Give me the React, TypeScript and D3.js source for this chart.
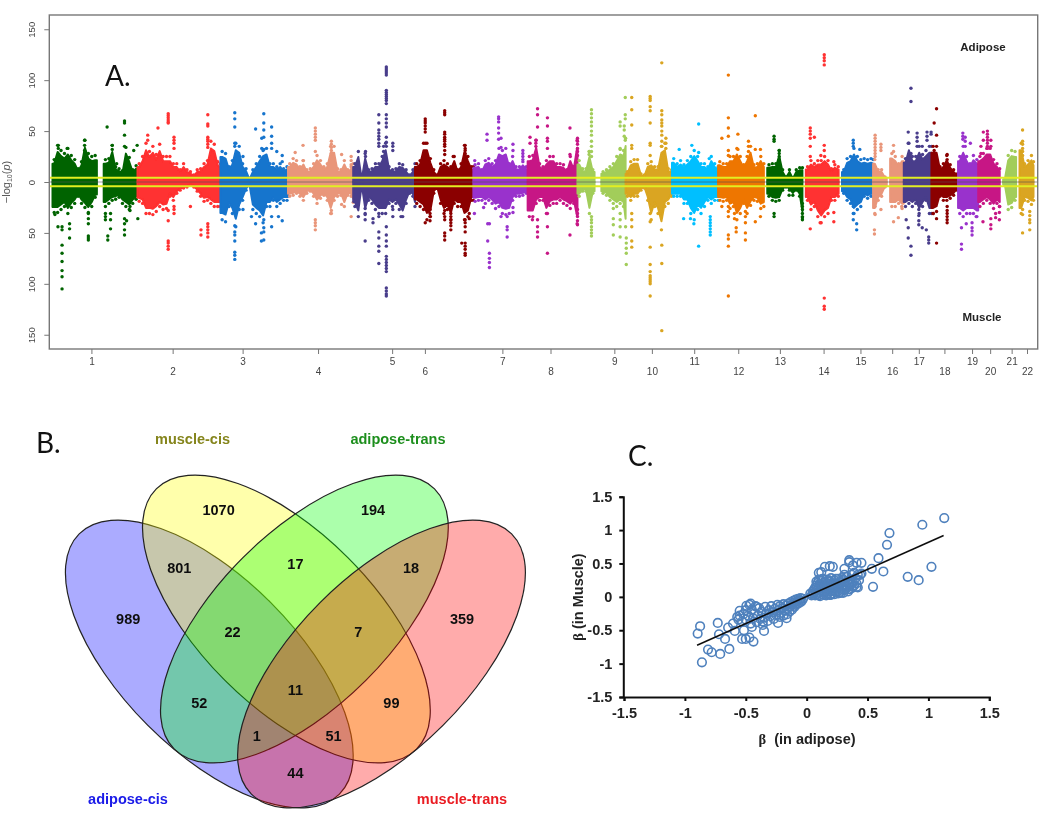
import React, { useRef, useEffect } from 'react';
import * as d3 from 'd3';

const WIDTH = 1050;
const HEIGHT = 821;
const SANS = '"Liberation Sans", Arial, sans-serif';

// ---- A. manhattan ----
const chrNames = ['1','2','3','4','5','6','7','8','9','10','11','12','13','14','15','16','17','18','19','20','21','22'];
const chrLengths = [249,243,198,191,181,171,159,146,141,136,135,134,113,106,101,90,81,78,59,63,48,51];
const chrTickMb = [114,103,65,88,114,29,85,67,108,77,65,59,47,62,64,56,44,38,41,35,35,32];
const chrColors = ['#006400','#ff3030','#1874cd','#e9967a','#483d8b','#8b0000','#9932cc','#c71585','#a2cd5a','#daa520','#00bfff','#ee7600'];

// densest part of each chromosome, read per 10 Mb bin (0 = no markers)
const adiposeBand = [
  [22,36,31,28,33,26,22,13,20,41,28,25,26,0,0,22,23,36,15,13,11,34,24,12,16],
  [18,25,38,30,35,27,37,25,25,25,18,18,12,18,12,10,7,12,13,18,21,40,37,20,18],
  [30,28,15,21,38,35,18,13,3,12,18,25,31,33,18,18,15,18,13,15],
  [18,23,21,15,21,12,13,18,26,21,15,18,35,35,13,12,21,12,15,18],
  [18,30,3,28,12,13,18,18,25,38,15,12,13,18,17,12,7,12,18],
  [18,21,38,38,23,12,7,18,21,18,15,25,12,18,36,25,15,15],
  [17,18,12,21,23,18,21,33,31,33,18,25,15,15,20,15],
  [25,26,41,18,15,21,25,25,18,18,17,12,25,15,41],
  [21,13,13,30,12,0,0,10,12,15,18,25,33,31,43],
  [10,20,22,22,8,7,18,20,15,15,35,38,13,12],
  [23,18,21,17,21,25,31,25,18,18,15,25,18,15],
  [20,18,18,25,25,33,25,17,25,35,17,18,25,18],
  [0,17,18,18,31,12,5,12,4,12,14,14],
  [0,15,21,18,21,21,25,21,13,17,15],
  [0,12,23,25,33,25,22,23,22,23,22],
  [22,12,12,5,0,28,25,18,25],
  [23,38,25,25,35,27,31,35,35],
  [35,35,15,18,26,17,12,8],
  [25,35,25,18,26,22],
  [25,28,33,33,22,18,13],
  [0,3,26,31,30],
  [0,38,18,21,26,20],
];
const muscleBand = [
  [30,30,27,24,31,25,21,14,21,25,30,24,15,0,0,24,21,18,17,15,21,24,27,21,17],
  [19,21,31,31,32,29,24,27,26,14,18,11,8,6,5,3,5,9,14,19,18,21,24,24,24],
  [37,39,24,31,44,27,18,8,3,27,31,34,40,24,24,18,24,21,18,18],
  [14,13,11,14,18,11,9,14,21,16,13,18,31,18,14,13,24,13,14,20],
  [24,34,3,31,18,21,27,31,31,31,21,24,21,27,34,21,11,14,24],
  [21,24,27,37,34,11,6,21,31,27,37,21,24,24,37,34,18,18],
  [19,18,18,21,18,21,26,24,31,32,31,18,14,14,13,11],
  [34,34,21,18,18,31,23,21,21,18,21,23,26,21,41],
  [14,9,9,31,11,0,0,11,13,18,21,24,21,24,44],
  [14,18,14,14,8,6,18,37,24,31,47,24,21,14],
  [14,14,14,21,21,31,37,27,31,24,18,21,18,18],
  [18,19,18,26,24,37,31,21,31,23,18,19,26,24],
  [0,14,18,19,18,8,5,8,13,8,14,35],
  [0,18,27,24,34,40,34,31,18,18,14],
  [0,11,18,21,31,27,24,14,16,14,14],
  [31,18,14,5,0,24,24,21,26],
  [24,21,24,21,31,24,18,31,31],
  [31,29,14,18,18,16,13,8],
  [31,34,31,31,31,34],
  [24,21,18,21,26,21,24],
  [0,3,27,25,18],
  [0,31,18,19,22,18],
];

type Spike = [number, number[]];
// stand-alone dots above the band: [Mb, -log10(p) values]
const adiposeSpikes: Spike[][] = [
  [[17,[36,33]],[43,[33]],[94,[41,36,31]],[160,[54]],[175,[36,32]],[188,[18]],[211,[60,58,46,35]],[238,[31]],[248,[36]]],
  [[30,[46,41]],[60,[53]],[90,[67,65,63,61,59,58]],[107,[44,41,38,33]],[206,[66,57,55,44,42,40,37,34]]],
  [[42,[68,62,54,38,35]],[66,[25]],[103,[52]],[121,[43,33]],[127,[67,58,51,44,32]],[150,[54,45,38,33]],[165,[30]],[181,[20,26]]],
  [[21,[29]],[44,[36,21]],[80,[53,50,47,44,41,30]],[127,[40,37,34,31,28]],[157,[27]],[185,[25,21,17,12]]],
  [[36,[25,30]],[75,[66,58,51,48,45,42,38,35]],[89,[35,30]],[97,[113,111,109,107,105,90,88,86,84,82,80,77,66,62,58,54,44,39,35]],[116,[38,35,31]]],
  [[30,[62,60,58,55,52,49,38]],[87,[70,68,66,49,47,44,42,40,37,35,31,27]],[147,[36,33,31,28]],[112,[25]]],
  [[4,[21]],[40,[47,41]],[74,[64,62,59,53,48,42]],[81,[43,34]],[116,[37,31]],[145,[31,28,25,22]]],
  [[7,[44,38]],[24,[41,38,35]],[29,[72,66,54]],[58,[63,55,43,40,33]],[124,[53,27]],[146,[43,40,37,33,30,26]]],
  [[34,[30,27]],[41,[71,67,63,59,55,50,46,40,35,30,25]],[125,[59,55,32]],[137,[55,51,45]],[140,[83,66,62,41]]],
  [[18,[83,71,56,36,33]],[72,[84,82,80,74,70,58,38,36,26]],[106,[117,70,66,61,58,55,50,46,40,35]],[118,[43,38,33]]],
  [[21,[32]],[58,[36]],[78,[57,29]],[109,[23]]],
  [[11,[43]],[30,[105,63,53,45,31,26]],[58,[47,32]],[89,[40,35,30]],[109,[65,32]],[124,[32]]],
  [[30,[45,42,40]],[45,[31,28,25,22]]],
  [[23,[53,50,47,43,35,25]],[35,[44]],[54,[26]],[64,[125,122,119,115,36,31]],[92,[20]]],
  [[43,[41,38,35]],[62,[32]]],
  [[6,[46,43,40,37,34,31,28,25]],[23,[37,34,31]],[60,[36,30]]],
  [[13,[49,38]],[21,[92,79,28]],[39,[48,44,40,35]],[54,[35]],[68,[49,45,41]],[80,[49,47]]],
  [[8,[58,31]],[15,[72,46]],[46,[27,22]]],
  [[14,[48,45,42]],[21,[44,40,35]],[36,[38]]],
  [[8,[35,28]],[15,[49,41]],[27,[50,47,44,41,38,35,33]],[37,[41,35]]],
  [],
  [[19,[51,40,37,33,30,26]]],
];
const muscleSpikes: Spike[][] = [
  [[7,[32]],[16,[44]],[28,[44,47,62,70,78,87,93,105]],[50,[41,46,55]],[105,[31,36,41,53,55,57]],[155,[31,34,37]],[162,[53,57]],[170,[31,37,46]],[211,[36,41,47,52]],[217,[38]],[227,[24,28]],[250,[36]]],
  [[90,[38,58,60,63,66,28]],[107,[24,27,31]],[186,[47,52]],[155,[24]],[206,[41,44,47,50,54]]],
  [[42,[43,49,52,58,69,72,76]],[66,[27]],[91,[34]],[103,[41]],[120,[50,58]],[127,[37,45,49,57]],[150,[34,44]],[170,[34]],[181,[38]]],
  [[80,[37,40,43,47]],[127,[28,31]],[157,[22]],[185,[34]]],
  [[35,[58,37,32,26]],[58,[36,40]],[75,[34,49,55,63,68,80]],[97,[44,52,58,63,73,76,79,82,85,88,104,107,110,112]],[116,[27,34]],[140,[34]]],
  [[30,[40]],[44,[27,31,34,38]],[87,[24,28,34,37,50,53,57]],[105,[31,34,37,40,43,47]],[137,[60]],[147,[37,40,44,49,60,63,66,70,72]],[159,[31,36]]],
  [[3,[31]],[30,[25]],[42,[41,58]],[47,[41,70,75,79,84]],[81,[34]],[99,[34,44,47,54]],[116,[25,30]]],
  [[14,[37]],[29,[37,44,49,54]],[58,[31,44,70]],[124,[52]],[146,[27,31,34,38,42]]],
  [[41,[34,37,40,44,47,50,53]],[105,[26,36,42,52]],[125,[31,37,44,54]],[143,[55,60,65,70,81]]],
  [[18,[31,37,44,58,64]],[72,[31,39,64,81,88,92,94,96,98,100,112]],[106,[62,80,146]]],
  [[34,[36]],[54,[36]],[64,[41]],[78,[63]],[112,[34,37,40,43,46,49,52]]],
  [[11,[24]],[30,[24,29,34,52,56,63,112]],[48,[31,36]],[53,[45,49]],[80,[29,34,40,50,57]],[109,[39]],[124,[34]]],
  [[30,[31,34]],[74,[13]],[113,[21,24,27,31,34,37]]],
  [[23,[46]],[52,[40]],[64,[114,122,125]],[92,[30,39]]],
  [[43,[24,31,37]],[53,[41,47]]],
  [[4,[47,51]],[6,[24,32]],[23,[27]],[60,[39]],[74,[35]],[84,[24]]],
  [[7,[37]],[13,[45,55]],[21,[63,72]],[44,[27,33,38,42]],[54,[45]],[66,[47]],[73,[54,57,60]]],
  [[5,[31]],[15,[36,60]],[46,[24,28,31,34,37,40]]],
  [[10,[45,61,66]],[24,[41]],[41,[40,45,48,52]],[53,[34]]],
  [[14,[39]],[37,[36,42,46]],[51,[31,35]],[62,[24,30,37]]],
  [],
  [[19,[27,32,50]],[40,[29,33,37,40,47]]],
];

const genomeTicksY = [-150,-100,-50,0,50,100,150];
const SIGNIFICANCE = 4.2;

// ---- B. venn ----
const vennNames = ['adipose-cis','muscle-cis','adipose-trans','muscle-trans'];
const vennFills = ['#0000ff','#ffff00','#00ff00','#ff0000'];
const vennCenters = [[209.3,664],[286.4,619],[304.4,619],[381.5,664]];
const vennAngles = [45,45,-45,-45];
const vennLabelColors = ['#1a1ae8','#85851c','#1f8f1f','#ea1c24'];
const vennLabelPos = [[128,799],[192.5,439],[398,439],[462,799]];
const vennCounts = [1070,194,801,17,18,989,22,7,359,11,52,99,1,51,44];
const vennCountPos = [[218.6,510],[373,510],[179.3,568],[295.4,564],[411,568],[128.2,619],[232.5,632],[358.2,632],[462,619],[295.4,690],[199.3,703],[391.4,703],[256.8,736],[333.6,736],[295.4,773]];

// ---- C. effect sizes ----
const betaTicks = [-1.5,-1,-0.5,0,0.5,1,1.5];
const fitLine = [[-0.9,-0.725],[1.125,0.92]];
const betaOutliers = [
  [1.13,1.18],[0.95,1.08],[0.68,0.955],[0.66,0.78],[0.59,0.58],[0.63,0.38],[0.535,0.42],[0.545,0.15],[0.83,0.3],[0.92,0.25],[1.025,0.45],
  [0.1,0.36],[0.12,0.37],[0.15,0.45],[0.19,0.46],[0.215,0.45],[0.31,0.42],[0.35,0.55],[0.35,0.52],[0.38,0.47],[0.41,0.51],[0.45,0.51],[0.45,0.35],[0.41,0.15],[0.38,0.15],[0.35,0.2],[0.27,0.07],
  [-0.895,-0.55],[-0.875,-0.44],[-0.73,-0.39],[-0.72,-0.56],[-0.67,-0.63],[-0.635,-0.78],[-0.81,-0.79],[-0.78,-0.83],[-0.71,-0.855],[-0.86,-0.98],[-0.645,-0.46],[-0.59,-0.51],[-0.605,-0.4],[-0.55,-0.21],[-0.57,-0.3],[-0.53,-0.63],[-0.5,-0.63],[-0.47,-0.61],[-0.437,-0.67],[-0.35,-0.51],[-0.45,-0.45],[-0.515,-0.5],[-0.495,-0.135],[-0.46,-0.1],[-0.235,-0.39],[-0.165,-0.32],[-0.36,-0.37],[-0.41,-0.15],
];
const betaPositive = [
  [0.03,0.05],[0.04,0.02],[0.05,0.08],[0.05,0.03],[0.06,0.11],[0.06,0.05],[0.07,0.14],[0.07,0.02],[0.08,0.09],[0.08,0.17],[0.08,0.04],[0.09,0.12],[0.09,0.21],[0.1,0.06],[0.1,0.15],[0.1,0.02],[0.11,0.1],[0.11,0.19],[0.12,0.04],[0.12,0.13],[0.12,0.24],[0.13,0.08],[0.13,0.17],[0.14,0.03],[0.14,0.12],[0.14,0.21],[0.15,0.07],[0.15,0.16],[0.16,0.1],[0.16,0.26],[0.17,0.05],[0.17,0.14],[0.17,0.2],[0.18,0.09],[0.18,0.17],[0.19,0.03],[0.19,0.12],[0.19,0.23],[0.2,0.08],[0.2,0.16],[0.2,0.28],[0.21,0.05],[0.21,0.13],[0.22,0.19],[0.22,0.1],[0.23,0.24],[0.23,0.15],[0.24,0.07],[0.24,0.2],[0.25,0.12],[0.25,0.17],[0.26,0.27],[0.26,0.09],[0.27,0.15],[0.28,0.21],[0.28,0.06],[0.29,0.12],[0.3,0.18],[0.3,0.25],[0.31,0.1],[0.32,0.22],[0.33,0.15],[0.33,0.3],[0.34,0.08],[0.35,0.18],[0.36,0.26],[0.37,0.13],[0.38,0.22],[0.39,0.17],[0.4,0.28],[0.41,0.2],[0.42,0.33],[0.43,0.25],
  [0.08,0.23],[0.1,0.26],[0.13,0.27],[0.15,0.23],[0.18,0.25],[0.21,0.2],[0.24,0.27],[0.27,0.22],[0.29,0.28],[0.31,0.33],[0.34,0.24],[0.37,0.33],[0.39,0.36],[0.42,0.14],[0.44,0.33],
  [0.11,0.01],[0.16,0.02],[0.2,0.03],[0.23,0.04],[0.26,0.05],[0.3,0.06],[0.32,0.12],[0.35,0.11],[0.37,0.2],
];
const betaNegative = [
  [-0.03,-0.03],[-0.04,-0.06],[-0.05,-0.02],[-0.05,-0.08],[-0.06,-0.05],[-0.07,-0.1],[-0.07,-0.03],[-0.08,-0.07],[-0.09,-0.12],[-0.09,-0.04],[-0.1,-0.09],[-0.1,-0.15],[-0.11,-0.06],[-0.12,-0.12],[-0.12,-0.19],[-0.13,-0.08],[-0.14,-0.15],[-0.14,-0.22],[-0.15,-0.1],[-0.16,-0.18],[-0.16,-0.26],[-0.17,-0.13],[-0.18,-0.21],[-0.19,-0.11],[-0.19,-0.28],[-0.2,-0.17],[-0.21,-0.24],[-0.22,-0.14],[-0.22,-0.3],[-0.23,-0.2],[-0.24,-0.12],[-0.25,-0.27],[-0.26,-0.18],[-0.27,-0.33],[-0.28,-0.23],[-0.29,-0.14],[-0.3,-0.29],[-0.31,-0.2],[-0.32,-0.36],[-0.33,-0.25],[-0.34,-0.15],[-0.35,-0.31],[-0.36,-0.42],[-0.37,-0.22],[-0.38,-0.33],[-0.39,-0.17],[-0.4,-0.28],[-0.41,-0.38],[-0.42,-0.14],[-0.43,-0.25],[-0.44,-0.32],[-0.45,-0.19],[-0.46,-0.4],[-0.47,-0.12],[-0.48,-0.28],[-0.5,-0.34],[-0.5,-0.2],[-0.52,-0.26],[-0.53,-0.37],[-0.55,-0.28],[-0.56,-0.34],
];

const App: React.FC = () => {
  const ref = useRef<SVGSVGElement>(null);

  useEffect(() => {
    const svg = d3.select(ref.current!);
    svg.selectAll('*').remove();
    svg.append('rect').attr('width', WIDTH).attr('height', HEIGHT).attr('fill', '#fff');

    const defs = svg.append('defs');
    defs.append('filter').attr('id', 'soft').append('feGaussianBlur').attr('stdDeviation', 0.45);

    // panel A
    const offsets = d3.cumsum([0, ...chrLengths]);
    const xGenome = d3.scaleLinear().domain([0, offsets[22]]).range([52.5, 1033.5]);
    const yP = d3.scaleLinear().domain([-164, 164]).range([349, 15]);
    const a = svg.append('g').attr('filter', 'url(#soft)');

    const bandArea = d3.area<{ x: number; v: number }>()
      .defined(d => d.v > 0)
      .x(d => xGenome(d.x))
      .y0(yP(0));

    chrNames.forEach((_, c) => {
      const color = chrColors[c % chrColors.length];
      const len = chrLengths[c];
      const g = a.append('g').attr('fill', color);
      const drawBand = (bins: number[], sign: number) => {
        const pts = bins.flatMap((v, i) => {
          const row = [{ x: offsets[c] + Math.min(i * 10 + 5, len), v }];
          if (v > 0 && !(bins[i - 1] > 0)) row.unshift({ x: offsets[c] + i * 10, v });
          if (v > 0 && !(bins[i + 1] > 0)) row.push({ x: offsets[c] + Math.min((i + 1) * 10, len), v });
          return row;
        });
        // solid core, the bin's top marker sits just above it
        g.append('path')
          .attr('d', bandArea.y1(d => yP(sign * d.v * 0.82))(pts))
          .attr('stroke', color)
          .attr('stroke-width', 2)
          .attr('stroke-linejoin', 'round');
        g.selectAll(null)
          .data(bins.map((v, i) => ({ v, i })).filter(d => d.v > 0))
          .enter()
          .append('circle')
          .attr('cx', d => xGenome(offsets[c] + Math.min(d.i * 10 + 5, len)))
          .attr('cy', d => yP(sign * d.v))
          .attr('r', 1.7);
      };
      drawBand(adiposeBand[c], 1);
      drawBand(muscleBand[c], -1);
      const drawSpikes = (spikes: Spike[], sign: number) => {
        spikes.forEach(([mb, values]) => {
          g.selectAll(null)
            .data(values)
            .enter()
            .append('circle')
            .attr('cx', xGenome(offsets[c] + mb))
            .attr('cy', v => yP(sign * v))
            .attr('r', 1.7);
        });
      };
      drawSpikes(adiposeSpikes[c], 1);
      drawSpikes(muscleSpikes[c], -1);
    });

    a.append('line').attr('x1', 49).attr('x2', 1038).attr('y1', yP(0)).attr('y2', yP(0))
      .attr('stroke', '#555').attr('stroke-width', 1).attr('opacity', 0.6);
    [SIGNIFICANCE, -SIGNIFICANCE].forEach(v => {
      a.append('line').attr('x1', 49).attr('x2', 1038).attr('y1', yP(v)).attr('y2', yP(v))
        .attr('stroke', '#e2ee22').attr('stroke-width', 2);
    });

    a.append('rect').attr('x', 49.3).attr('y', 15).attr('width', 988.4).attr('height', 334)
      .attr('fill', 'none').attr('stroke', '#777').attr('stroke-width', 1.4);

    const yAxis = a.append('g').attr('transform', 'translate(49.3,0)')
      .call(d3.axisLeft(yP).tickValues(genomeTicksY).tickSize(5).tickFormat(d => String(Math.abs(+d))));
    yAxis.select('.domain').remove();
    yAxis.selectAll('line').attr('stroke', '#777');
    yAxis.selectAll<SVGTextElement, number>('text')
      .attr('x', 0).attr('y', 0).attr('dy', '0.32em')
      .attr('transform', 'translate(-17,0) rotate(-90)')
      .attr('text-anchor', 'middle')
      .attr('fill', '#444').attr('font-family', SANS).attr('font-size', 9.5);

    const tickPositions = chrTickMb.map((mb, c) => offsets[c] + mb);
    const xAxis = a.append('g').attr('transform', 'translate(0,349)')
      .call(d3.axisBottom(xGenome).tickValues(tickPositions).tickSize(5)
        .tickFormat((_, i) => chrNames[i]));
    xAxis.select('.domain').remove();
    xAxis.selectAll('line').attr('stroke', '#777');
    xAxis.selectAll<SVGTextElement, number>('text')
      .attr('y', (_, i) => (i % 2 === 0 ? 9 : 19))
      .attr('fill', '#444').attr('font-family', SANS).attr('font-size', 10);

    const yTitle = a.append('text')
      .attr('transform', 'translate(10,182) rotate(-90)')
      .attr('text-anchor', 'middle').attr('fill', '#555')
      .attr('font-family', SANS).attr('font-size', 11);
    yTitle.append('tspan').text('\u2212log');
    yTitle.append('tspan').attr('font-size', 7).attr('dy', 2).text('10');
    yTitle.append('tspan').attr('dy', -2).text('(');
    yTitle.append('tspan').attr('font-style', 'italic').text('p');
    yTitle.append('tspan').text(')');

    const boldLabel = (x: number, y: number, t: string) =>
      a.append('text').attr('x', x).attr('y', y).attr('text-anchor', 'middle')
        .attr('font-family', SANS).attr('font-weight', 'bold').attr('font-size', 11.5)
        .attr('fill', '#222').text(t);
    boldLabel(983, 51, 'Adipose');
    boldLabel(982, 321, 'Muscle');

    // panel letters
    const letter = (x: number, y: number, t: string) =>
      svg.append('text').attr('x', x).attr('y', y).attr('font-family', 'Lato, sans-serif')
        .attr('font-size', 28).attr('fill', '#111').text(t);
    letter(105, 86, 'A.');
    letter(36, 453, 'B.');
    letter(628, 466, 'C.');

    // panel B
    const b = svg.append('g').attr('filter', 'url(#soft)');
    vennNames.forEach((name, i) => {
      b.append('ellipse')
        .attr('transform', `translate(${vennCenters[i][0]},${vennCenters[i][1]}) rotate(${vennAngles[i]})`)
        .attr('rx', 184).attr('ry', 86.9)
        .attr('fill', vennFills[i]).attr('fill-opacity', 0.33)
        .attr('stroke', '#222').attr('stroke-width', 1.2);
      b.append('text').attr('x', vennLabelPos[i][0]).attr('y', vennLabelPos[i][1])
        .attr('text-anchor', 'middle').attr('dy', '0.35em')
        .attr('font-family', SANS).attr('font-weight', 'bold').attr('font-size', 14.5)
        .attr('fill', vennLabelColors[i]).text(name);
    });
    b.selectAll(null).data(vennCounts).enter().append('text')
      .attr('x', (_, i) => vennCountPos[i][0]).attr('y', (_, i) => vennCountPos[i][1])
      .attr('text-anchor', 'middle').attr('dy', '0.35em')
      .attr('font-family', SANS).attr('font-weight', 'bold').attr('font-size', 14.5)
      .attr('fill', '#111').text(d => d);

    // panel C
    const xBeta = d3.scaleLinear().domain([-1.5, 1.5]).range([624, 989.3]);
    const yBeta = d3.scaleLinear().domain([-1.5, 1.5]).range([697, 496.7]);
    const c = svg.append('g').attr('filter', 'url(#soft)');
    const allBetas = [...betaOutliers, ...betaPositive, ...betaNegative];
    c.selectAll(null).data(allBetas).enter().append('circle')
      .attr('cx', d => xBeta(d[0])).attr('cy', d => yBeta(d[1])).attr('r', 4.3)
      .attr('fill', 'none').attr('stroke', '#4f81bd').attr('stroke-width', 1.6);
    c.append('path')
      .attr('d', d3.line<number[]>().x(d => xBeta(d[0])).y(d => yBeta(d[1]))(fitLine))
      .attr('stroke', '#111').attr('stroke-width', 1.6).attr('fill', 'none');

    const styleAxis = (g: d3.Selection<SVGGElement, unknown, null, undefined>) => {
      g.select('.domain').attr('stroke', '#111').attr('stroke-width', 2);
      g.selectAll('line').attr('stroke', '#111').attr('stroke-width', 2);
      g.selectAll('text').attr('font-family', SANS).attr('font-weight', 'bold')
        .attr('font-size', 14.5).attr('fill', '#222');
    };
    c.append('g').attr('transform', 'translate(0,697)')
      .call(d3.axisBottom(xBeta).tickValues(betaTicks).tickSize(4).tickPadding(7).tickFormat(d => String(d)))
      .call(styleAxis);
    c.append('g').attr('transform', 'translate(623.3,0)')
      .call(d3.axisLeft(yBeta).tickValues(betaTicks).tickSize(4).tickPadding(7).tickFormat(d => String(d)))
      .call(styleAxis);

    const betaTitle = (sel: d3.Selection<SVGTextElement, unknown, null, undefined>, rest: string) => {
      sel.attr('text-anchor', 'middle').attr('font-family', SANS)
        .attr('font-weight', 'bold').attr('font-size', 14.5).attr('fill', '#222');
      sel.append('tspan').attr('font-family', '"Liberation Serif", serif').text('\u03b2');
      sel.append('tspan').attr('xml:space', 'preserve').text(rest);
    };
    betaTitle(c.append('text').attr('x', 807).attr('y', 744), '  (in adipose)');
    betaTitle(c.append('text').attr('transform', 'translate(583,597) rotate(-90)'), ' (in Muscle)');
  }, []);

  return <svg ref={ref} width={WIDTH} height={HEIGHT} style={{ position: 'absolute', left: 0, top: 0 }} />;
};

export default App;
